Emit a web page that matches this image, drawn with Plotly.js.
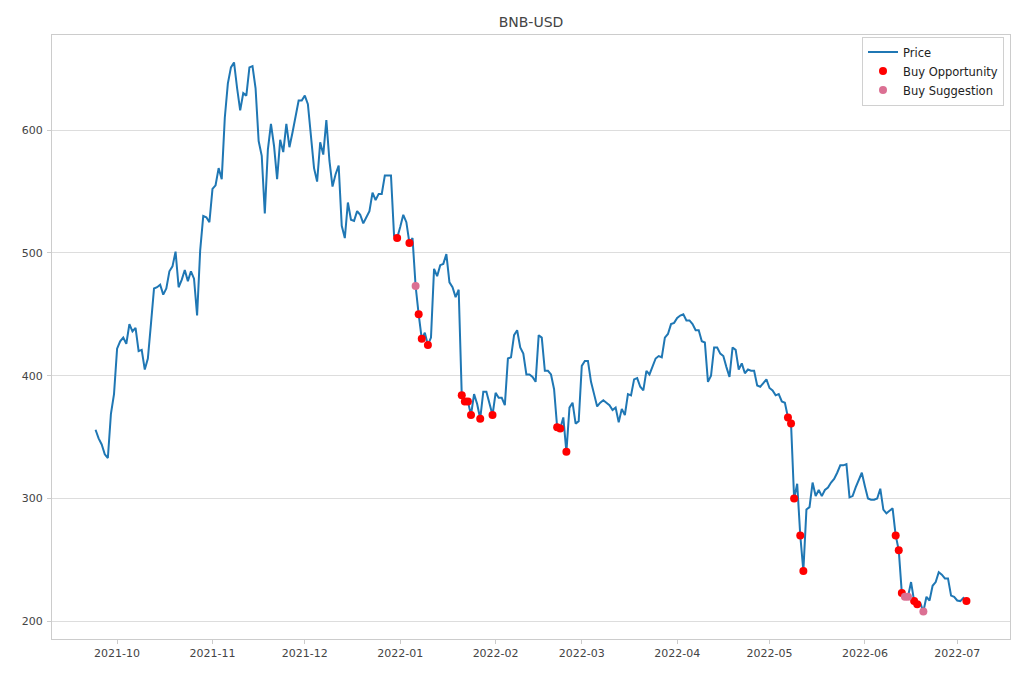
<!DOCTYPE html>
<html><head><meta charset="utf-8">
<script src="https://cdn.plot.ly/plotly-3.0.1.min.js"></script>
<style>html,body{margin:0;padding:0;background:#fff}#chart{width:1020px;height:680px}</style>
</head><body><div id="chart"></div>
<script>
// Daily closing prices, first value on startDate, one per day
const startDate = '2021-09-24';
const prices = [
  // 2021-09-24 .. 09-30
  356, 349, 344, 336, 333, 369, 385,
  // 2021-10
  422, 428, 431, 426, 442, 436, 439, 420, 421, 405, 414, 442, 471, 472, 474, 466,
  471, 485, 489, 501, 472, 478, 486, 477, 485, 479, 449, 502, 530, 529, 525,
  // 2021-11
  552, 555, 569, 560, 610, 638, 651, 655, 634, 616, 630, 628, 651, 652, 634, 591,
  579, 532, 584, 605, 587, 560, 592, 582, 605, 586, 598, 610, 624, 624,
  // 2021-12
  628, 621, 593, 569, 558, 590, 580, 608, 575, 554, 564, 571, 522, 512, 541, 527,
  526, 534, 531, 524, 529, 534, 549, 543, 548, 548, 563, 563, 563, 514, 512,
  // 2022-01
  521, 531, 525, 508, 512, 473, 450, 430, 435, 425, 431, 487, 481, 490, 491, 499,
  476, 472, 464, 470, 384, 379, 379, 368, 385, 377, 365, 387, 387, 377, 368,
  // 2022-02
  386, 382, 382, 376, 414, 415, 433, 437, 423, 418, 401, 401, 399, 395, 433, 431,
  404, 404, 401, 389, 358, 357, 366, 338, 374, 378, 361, 363,
  // 2022-03
  408, 412, 412, 395, 385, 375, 378, 380, 378, 376, 372, 374, 362, 373, 368, 385,
  384, 397, 398, 391, 388, 404, 401, 407, 414, 416, 415, 431, 434, 442, 443,
  // 2022-04
  447, 449, 450, 445, 445, 442, 437, 437, 428, 427, 395, 400, 423, 423, 418, 416,
  407, 399, 423, 421, 405, 410, 402, 405, 404, 404, 392, 391, 394, 397,
  // 2022-05
  390, 388, 384, 385, 379, 378, 366, 361, 300, 312, 270, 241, 291, 293, 313, 302,
  307, 302, 307, 309, 313, 316, 321, 327, 327, 328, 301, 302, 309, 315, 321,
  // 2022-06
  310, 300, 299, 299, 300, 308, 291, 288, 290, 292, 270, 258, 223, 220, 220, 232,
  216.5, 214, 215, 208, 220, 217, 229, 232, 240, 238, 235, 235, 221, 220,
  // 2022-07
  217, 216.5, 219, 216.5
];
const buyOpportunityDates = [
  '2021-12-31', '2022-01-04', '2022-01-07', '2022-01-08', '2022-01-10',
  '2022-01-21', '2022-01-22', '2022-01-23', '2022-01-24', '2022-01-27', '2022-01-31',
  '2022-02-21', '2022-02-22', '2022-02-24',
  '2022-05-07', '2022-05-08', '2022-05-09', '2022-05-11', '2022-05-12',
  '2022-06-11', '2022-06-12', '2022-06-13', '2022-06-17', '2022-06-18',
  '2022-07-04'
];
const buySuggestionDates = ['2022-01-06', '2022-06-14', '2022-06-15', '2022-06-20'];
const yTicks = [200, 300, 400, 500, 600];
const chartTitle = 'BNB-USD';
const seriesNames = ['Price', 'Buy Opportunity', 'Buy Suggestion'];

function addDays(s, n) {
  const d = new Date(s + 'T00:00:00Z');
  d.setUTCDate(d.getUTCDate() + n);
  return d.toISOString().slice(0, 10);
}
const dates = prices.map((_, i) => addDays(startDate, i));
const priceOf = {};
dates.forEach((d, i) => { priceOf[d] = prices[i]; });

const t0 = Date.parse(dates[0] + 'T00:00:00Z');
const t1 = Date.parse(dates[dates.length - 1] + 'T00:00:00Z');
const padT = (t1 - t0) * 0.05;
const iso = t => new Date(t).toISOString().replace('T', ' ').slice(0, 19);
const ymin = Math.min(...prices), ymax = Math.max(...prices);
const padY = (ymax - ymin) * 0.05;

const font = 'DejaVu Sans, sans-serif';
const traces = [
  { x: dates, y: prices, type: 'scatter', mode: 'lines', name: seriesNames[0],
    line: { color: '#1f77b4', width: 2 } },
  { x: buyOpportunityDates, y: buyOpportunityDates.map(d => priceOf[d]), type: 'scatter',
    mode: 'markers', name: seriesNames[1], marker: { color: '#ff0000', size: 8 } },
  { x: buySuggestionDates, y: buySuggestionDates.map(d => priceOf[d]), type: 'scatter',
    mode: 'markers', name: seriesNames[2], marker: { color: '#db7093', size: 8 } }
];
const layout = {
  width: 1020, height: 680,
  margin: { l: 52, r: 10, t: 35, b: 41 },
  paper_bgcolor: '#ffffff', plot_bgcolor: '#ffffff',
  font: { family: font, size: 11, color: '#444' },
  title: { text: chartTitle, x: 0.5, xref: 'paper', xanchor: 'center',
    y: 1 - 22 / 680, yref: 'container', yanchor: 'middle',
    font: { family: font, size: 14, color: '#444' } },
  showlegend: true,
  legend: { x: 1 - 6 / 958, xanchor: 'right', y: 1 - 1.5 / 604, yanchor: 'top',
    bgcolor: '#ffffff', bordercolor: '#d0d0d0', borderwidth: 1,
    font: { family: font, size: 11.5, color: '#222' }, tracegroupgap: 0 },
  xaxis: {
    type: 'date', range: [iso(t0 - padT), iso(t1 + padT)],
    tick0: '2021-10-01', dtick: 'M1', tickformat: '%Y-%m',
    showgrid: false, zeroline: false,
    showline: true, mirror: true, linecolor: '#cccccc', linewidth: 1,
    ticks: 'outside', ticklen: 4, tickcolor: '#cccccc',
    tickfont: { family: font, size: 11, color: '#444' }
  },
  yaxis: {
    range: [ymin - padY, ymax + padY], tickvals: yTicks, ticktext: yTicks.map(String),
    showgrid: true, gridcolor: '#dddddd', gridwidth: 1, zeroline: false,
    showline: true, mirror: true, linecolor: '#cccccc', linewidth: 1,
    ticks: 'outside', ticklen: 4, tickcolor: '#cccccc', ticklabelstandoff: 2,
    tickfont: { family: font, size: 11, color: '#444' }
  }
};
Plotly.newPlot('chart', traces, layout, { displayModeBar: false, staticPlot: true });
</script>
</body></html>
